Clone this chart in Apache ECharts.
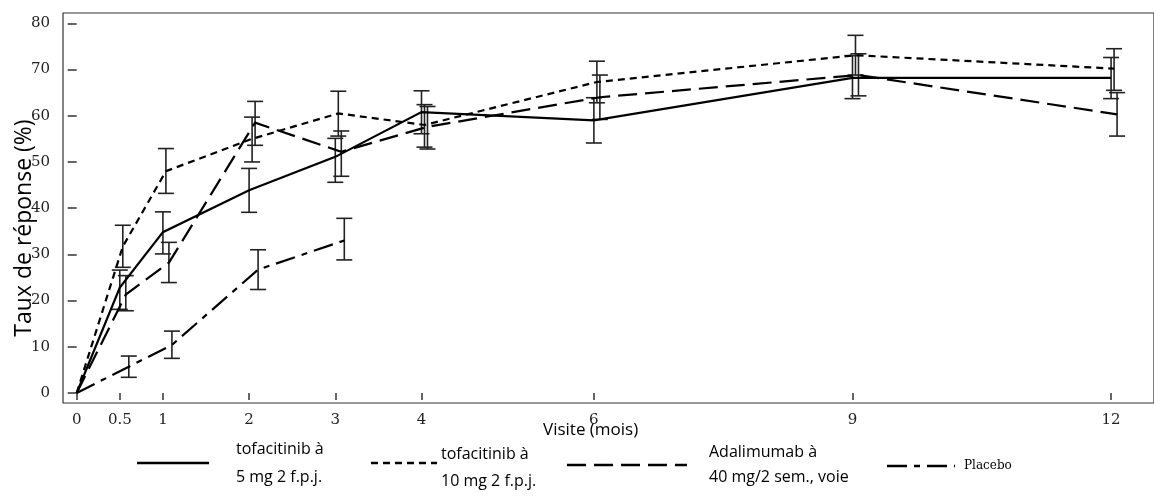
<!DOCTYPE html>
<html>
<head>
<meta charset="utf-8">
<script src="https://cdn.jsdelivr.net/npm/echarts@6/dist/echarts.min.js"></script>
<style>
html,body{margin:0;padding:0;background:#fff;}
#chart{width:1154px;height:496px;}
</style>
</head>
<body>
<div id="chart"></div>
<script>
// ---- data ----
const visits = [0, 0.5, 1, 2, 3, 4, 6, 9, 12];
const visitsPlacebo = [0, 0.5, 1, 2, 3];
const yTicks = [0, 10, 20, 30, 40, 50, 60, 70, 80];

const tofa5 = [0, 22.8, 34.8, 43.9, 51.1, 60.8, 59.0, 68.2, 68.2];
const tofa5Lo = [null, 18.1, 30.1, 39.1, 45.6, 56.1, 54.1, 63.7, 63.7];
const tofa5Hi = [null, 26.6, 39.2, 48.6, 55.1, 65.4, 63.9, 73.0, 72.6];

const tofa10 = [0, 31.7, 48.0, 55.0, 60.5, 58.0, 67.3, 73.1, 70.2];
const tofa10Lo = [null, 27.2, 43.2, 50.0, 55.6, 53.2, 62.8, 68.8, 65.5];
const tofa10Hi = [null, 36.3, 52.9, 59.7, 65.3, 62.4, 71.8, 77.4, 74.5];

const ada = [0, 21.3, 28.2, 58.5, 52.2, 57.6, 64.0, 68.8, 60.3];
const adaLo = [null, 17.8, 23.9, 53.6, 46.9, 52.8, 59.2, 64.3, 55.6];
const adaHi = [null, 25.4, 32.6, 63.1, 56.7, 62.0, 68.8, 73.4, 65.0];

const placebo = [0, 5.7, 10.4, 26.7, 33.0];
const placeboLo = [null, 3.4, 7.5, 22.4, 28.8];
const placeboHi = [null, 8.0, 13.4, 31.0, 37.8];

const names = ['tofacitinib à 5 mg 2 f.p.j.', 'tofacitinib à 10 mg 2 f.p.j.', 'Adalimumab à 40 mg/2 sem., voie', 'Placebo'];

// ---- styles ----
const DASH_SOLID = null;
const DASH_DOT = [7, 5];
const DASH_LONG = [19, 8];
const DASH_DASHDOT = [20, 7, 6, 7];

function makeSeries(name, xs, ys, lo, hi, dash, offPx) {
  return {
    type: 'custom',
    name: name,
    silent: true,
    animation: false,
    data: xs.map((x, i) => [x, ys[i]]),
    encode: { x: 0, y: 1 },
    renderItem: function (params, api) {
      const i = params.dataIndex;
      const children = [];
      if (i === 0) {
        const pts = xs.map((x, k) => {
          const c = api.coord([x, ys[k]]);
          return [c[0] + (k === 0 ? 0 : offPx), c[1]];
        });
        children.push({
          type: 'polyline',
          shape: { points: pts },
          style: { stroke: '#000', lineWidth: 2.2, lineDash: dash, fill: null },
          z2: 2
        });
      }
      if (lo[i] != null) {
        const t = api.coord([xs[i], hi[i]]);
        const b = api.coord([xs[i], lo[i]]);
        const x = t[0] + offPx;
        const hw = 8;
        const st = { stroke: '#222', lineWidth: 1.6 };
        children.push({ type: 'line', shape: { x1: x, y1: t[1], x2: x, y2: b[1] }, style: st });
        children.push({ type: 'line', shape: { x1: x - hw, y1: t[1], x2: x + hw, y2: t[1] }, style: st });
        children.push({ type: 'line', shape: { x1: x - hw, y1: b[1], x2: x + hw, y2: b[1] }, style: st });
      }
      return { type: 'group', children: children };
    }
  };
}

const chart = echarts.init(document.getElementById('chart'), null, { renderer: 'canvas' });

const tickFont = { fontFamily: 'DejaVu Serif', fontSize: 15, color: '#222' };
const legendFont = 'Open Sans';

function legendLine(x1, x2, y, dash) {
  return {
    type: 'line',
    shape: { x1: x1, y1: y, x2: x2, y2: y },
    style: { stroke: '#000', lineWidth: 2.5, lineDash: dash }
  };
}
function legendText(x, y, txt, font, size) {
  return {
    type: 'text',
    x: x, y: y,
    style: { text: txt, fontFamily: font, fontSize: size, fill: '#000', align: 'left', verticalAlign: 'middle' }
  };
}

chart.setOption({
  animation: false,
  grid: { left: 63, top: 13, right: -2, bottom: 93, show: true, borderColor: '#333', borderWidth: 1.2, containLabel: false },
  xAxis: {
    type: 'value',
    min: -0.159,
    max: 12.498,
    axisLine: { show: false },
    splitLine: { show: false },
    axisTick: { show: true, customValues: visits, length: 7, lineStyle: { color: '#333', width: 1.5 } },
    axisLabel: Object.assign({ customValues: visits, margin: 10, formatter: v => String(v) }, tickFont)
  },
  yAxis: {
    type: 'value',
    min: -2.16,
    max: 82.23,
    axisLine: { show: false },
    splitLine: { show: false },
    axisTick: { show: true, customValues: yTicks, length: 9, lineStyle: { color: '#333', width: 1.5 } },
    axisLabel: Object.assign({ customValues: yTicks, margin: 13, formatter: v => String(v) }, tickFont)
  },
  series: [
    makeSeries(names[0], visits, tofa5, tofa5Lo, tofa5Hi, DASH_SOLID, 0),
    makeSeries(names[1], visits, tofa10, tofa10Lo, tofa10Hi, DASH_DOT, 3),
    makeSeries(names[2], visits, ada, adaLo, adaHi, DASH_LONG, 6),
    makeSeries(names[3], visitsPlacebo, placebo, placeboLo, placeboHi, DASH_DASHDOT, 9)
  ],
  graphic: [
    {
      type: 'text', x: 24, y: 228, rotation: Math.PI / 2,
      style: { text: 'Taux de réponse (%)', fontFamily: legendFont, fontSize: 23, fill: '#000', align: 'center', verticalAlign: 'middle' }
    },
    legendText(543, 430, 'Visite (mois)', legendFont, 17),
    legendLine(137, 209, 463, DASH_SOLID),
    legendText(236, 449, 'tofacitinib à', legendFont, 16),
    legendText(236, 477, '5 mg 2 f.p.j.', legendFont, 16),
    legendLine(371, 437, 463, DASH_DOT),
    legendText(441, 454, 'tofacitinib à', legendFont, 16),
    legendText(441, 481, '10 mg 2 f.p.j.', legendFont, 16),
    legendLine(567, 687, 465, DASH_LONG),
    legendText(709, 452, 'Adalimumab à', legendFont, 16),
    legendText(709, 477, '40 mg/2 sem., voie', legendFont, 16),
    legendLine(887, 955, 466, DASH_DASHDOT),
    legendText(964, 466, 'Placebo', 'DejaVu Serif', 12)
  ]
});
</script>
</body>
</html>
